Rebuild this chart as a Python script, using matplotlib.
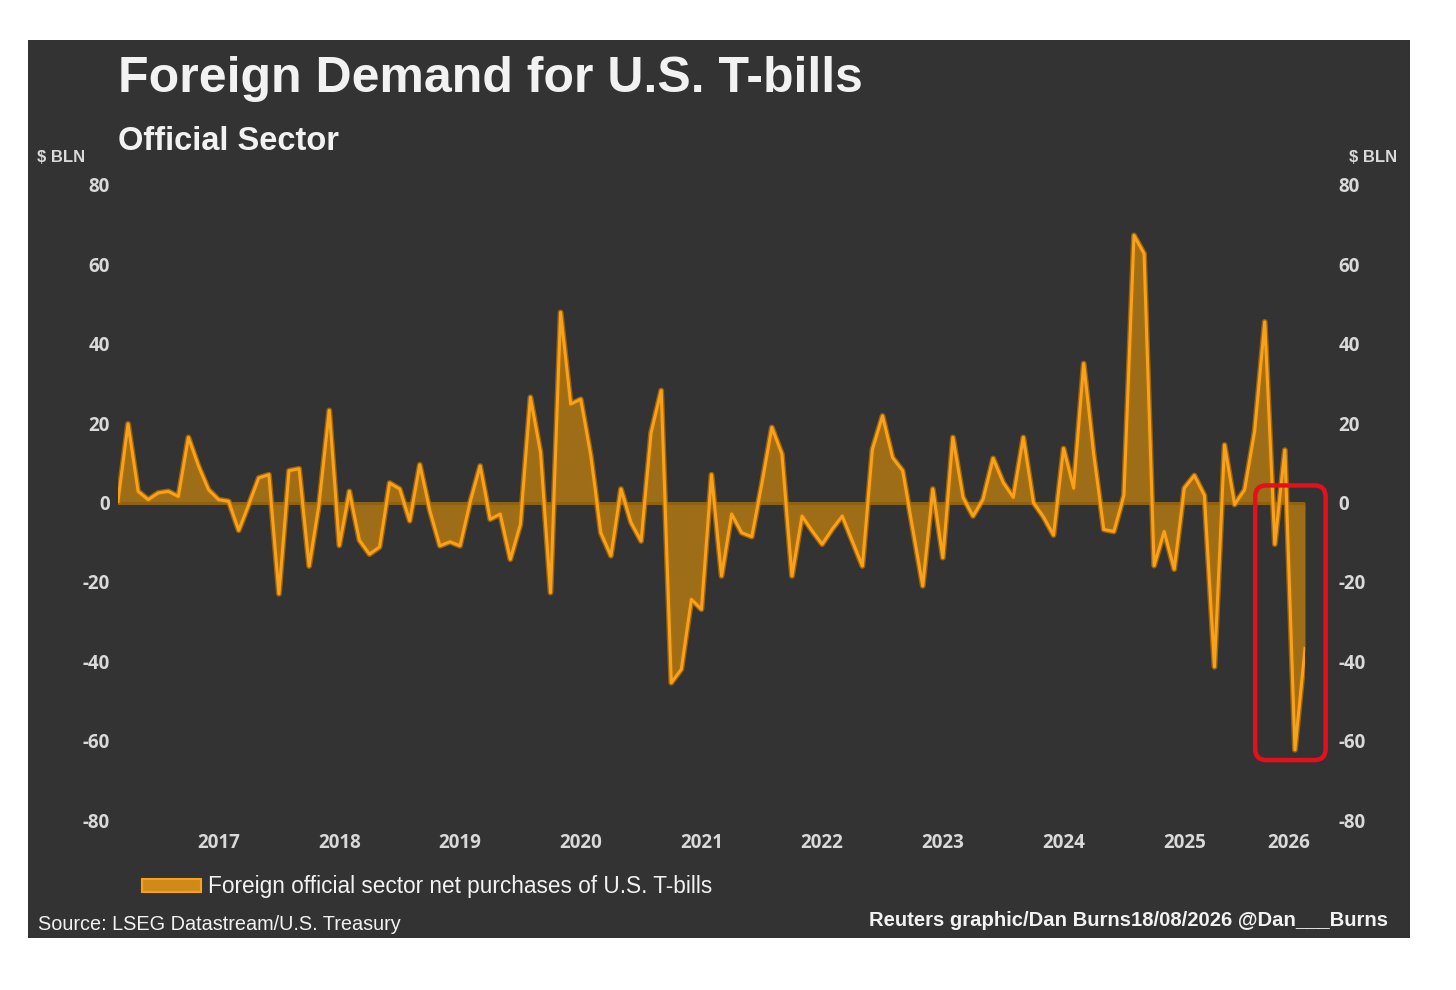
import matplotlib.pyplot as plt
import matplotlib.patheffects as pe
from matplotlib.patches import Rectangle, FancyBboxPatch, Patch
import numpy as np

# foreign official sector net purchases of U.S. T-bills, $ bln, monthly
start_year, start_month = 2016, 3
purchases = [
    0.3, 19.8, 2.8, 0.7, 2.4, 2.8, 1.5, 16.4, 9.2, 3.2,
    0.7, 0.3, -7.0, -0.5, 6.2, 7.0, -23.0, 8.0, 8.5, -16.0,
    -0.2, 23.2, -10.8, 2.8, -9.5, -13.0, -11.2, 4.9, 3.4, -4.6,
    9.5, -2.0, -10.9, -9.9, -10.9, 0.0, 9.2, -4.2, -2.9, -14.3,
    -5.5, 26.5, 12.6, -22.7, 47.9, 24.8, 26.0, 11.8, -7.6, -13.4,
    3.4, -5.0, -9.7, 17.6, 28.2, -45.4, -42.0, -24.4, -26.9, 7.0,
    -18.5, -2.9, -7.6, -8.6, 4.6, 18.9, 12.2, -18.5, -3.4, -7.1,
    -10.5, -6.7, -3.4, -9.7, -16.0, 13.4, 21.8, 11.3, 8.0, -6.5,
    -21.0, 3.4, -13.9, 16.4, 1.3, -3.4, 0.8, 11.1, 5.0, 1.3,
    16.4, 0.0, -3.6, -8.2, 13.6, 3.6, 35.0, 12.0, -6.8, -7.3,
    1.8, 67.3, 62.7, -15.9, -7.3, -16.8, 3.6, 6.8, 1.8, -41.4,
    14.5, -0.5, 3.2, 18.0, 45.5, -10.5, 13.2, -62.3, -36.8,
]
year_labels = ['2017', '2018', '2019', '2020', '2021', '2022', '2023', '2024', '2025', '2026']
y_ticks = [80, 60, 40, 20, 0, -20, -40, -60, -80]

title = 'Foreign Demand for U.S. T-bills'
subtitle = 'Official Sector'
unit = '$ BLN'
legend_label = 'Foreign official sector net purchases of U.S. T-bills'
source = 'Source: LSEG Datastream/U.S. Treasury'
credit = 'Reuters graphic/Dan Burns18/08/2026 @Dan___Burns'

bg = '#333333'
orange = '#f8a21c'
fill_col = '#f5a000'
txt = '#f2f2f2'
tick_col = '#d9d9d9'
W, H = 1456, 990

y = np.array(purchases)
x = np.arange(len(y))
# January of each year as month index; last label pulled inside the frame
jan_idx = [(12 - start_month + 1) % 12 + 12 * k for k in range(len(year_labels))]
jan_idx[-1] = x[-1] - 1.6

fig = plt.figure(figsize=(W / 100, H / 100), dpi=100)
fig.patch.set_facecolor('white')
fig.add_artist(Rectangle((28 / W, 1 - 938 / H), 1382 / W, 898 / H,
                         transform=fig.transFigure, facecolor=bg,
                         edgecolor='none', zorder=-5))

ax = fig.add_axes([118 / W, 1 - 820 / H, (1305 - 118) / W, (820 - 185) / H])
ax.set_facecolor('none')
ax.set_xlim(x[0], x[-1])
ax.set_ylim(-80, 80)

ax.fill_between(x, y, 0, color=fill_col, alpha=0.55, lw=0, zorder=2)
ax.axhline(0, color='#8d6212', lw=2.2, zorder=2.5)
ax.plot(x, y, color=orange, lw=2.2, solid_joinstyle='round', zorder=3,
        path_effects=[pe.Stroke(linewidth=4.2, foreground='#b86f00', alpha=0.8),
                      pe.Normal()])

for s in ax.spines.values():
    s.set_visible(False)
ax.set_yticks(y_ticks)
ax.set_yticklabels([str(v) for v in y_ticks])
ax.set_xticks(jan_idx)
ax.set_xticklabels(year_labels)
ax.tick_params(length=0, colors=tick_col, labelsize=13.5)
ax.tick_params(axis='y', pad=6)
ax.tick_params(axis='x', pad=9)
for lab in ax.get_xticklabels() + ax.get_yticklabels():
    lab.set_fontfamily('Open Sans')
    lab.set_fontweight('bold')

ax2 = ax.twinx()
ax2.set_ylim(-80, 80)
ax2.set_yticks(y_ticks)
ax2.set_yticklabels([str(v) for v in y_ticks])
ax2.tick_params(length=0, colors=tick_col, labelsize=13.5, pad=24)
for s in ax2.spines.values():
    s.set_visible(False)
for lab in ax2.get_yticklabels():
    lab.set_fontfamily('Open Sans')
    lab.set_fontweight('bold')

# red highlight box around the latest months
n = len(y)
box = FancyBboxPatch((n - 1 - 4.95, min(y) - 2.6), 7.0, 4.3 - (min(y) - 2.6),
                     boxstyle='round,pad=0,rounding_size=1.1',
                     mutation_aspect=10.08 / 3.97,
                     facecolor='none', edgecolor='#e5101c', lw=3.2,
                     clip_on=False, zorder=5)
ax.add_patch(box)

fig.text(118 / W, 1 - 79 / H, title, color=txt, fontsize=36, fontweight='bold',
         family='Liberation Sans', va='center', ha='left')
fig.text(118 / W, 1 - 142 / H, subtitle, color=txt, fontsize=23.5, fontweight='bold',
         family='Liberation Sans', va='center', ha='left')
fig.text(37 / W, 1 - 158 / H, unit, color=tick_col, fontsize=12, fontweight='bold',
         family='Liberation Sans', va='center', ha='left')
fig.text(1349 / W, 1 - 158 / H, unit, color=tick_col, fontsize=12, fontweight='bold',
         family='Liberation Sans', va='center', ha='left')

handle = Patch(facecolor='#d08a18', edgecolor=orange, lw=1.5)
fig.legend([handle], [legend_label], loc='center left',
           bbox_to_anchor=(122 / W, 1 - 887 / H), frameon=False,
           handlelength=2.6, handleheight=0.5, handletextpad=0.3,
           prop={'family': 'Liberation Sans', 'size': 16.3},
           labelcolor=txt)

fig.text(38 / W, 1 - 924 / H, source, color=txt, fontsize=14.3,
         family='Liberation Sans', va='center', ha='left')
fig.text(1388 / W, 1 - 920 / H, credit, color=txt, fontsize=14.6, fontweight='bold',
         family='Liberation Sans', va='center', ha='right')

fig.savefig('out.png', dpi=100, facecolor=fig.get_facecolor())
